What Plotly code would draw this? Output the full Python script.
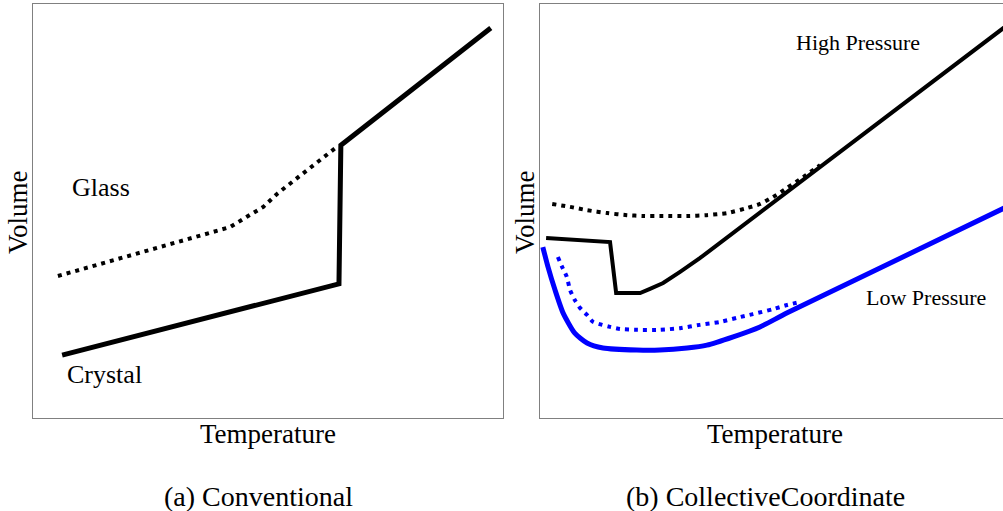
import plotly.graph_objects as go

# ---------------- data (arbitrary units: Temperature 0-100, Volume 0-100) ----------------
# Panel (a) Conventional
crystal_T = [6.2, 65.1, 65.5, 97.4]
crystal_V = [15.2, 32.4, 65.9, 94.2]
glass_T = [5.3, 41.9, 45.5, 49.0, 52.1, 54.9, 57.7, 60.9, 64.9]
glass_V = [34.3, 46.1, 48.6, 51.0, 54.3, 56.8, 59.4, 62.3, 65.7]

# Panel (b) CollectiveCoordinate
hp_solid_T = [1.3, 14.9, 16.2, 21.3, 23.4, 26.2, 29.8, 34.0, 100.0]
hp_solid_V = [43.5, 42.5, 30.2, 30.2, 31.2, 32.6, 35.3, 38.6, 95.4]
hp_dot_T = [2.6, 6.4, 10.0, 14.3, 18.5, 21.9, 26.2, 31.3, 35.5, 39.8, 44.0, 46.8, 49.6, 52.6, 56.0, 59.6]
hp_dot_V = [51.7, 51.0, 50.2, 49.5, 49.0, 48.8, 48.8, 48.8, 49.0, 49.5, 50.7, 51.7, 53.4, 55.6, 58.2, 61.1]
lp_solid_T = [0.6, 1.7, 3.2, 4.9, 7.4, 10.0, 13.4, 20.6, 25.5, 31.3, 35.5, 41.1, 46.8, 52.6, 100.0]
lp_solid_V = [41.3, 36.5, 30.9, 25.4, 20.5, 18.1, 16.9, 16.4, 16.4, 16.9, 17.6, 19.6, 22.0, 25.4, 51.4]
lp_dot_T = [3.8, 4.7, 5.7, 6.4, 7.4, 8.5, 10.0, 11.3, 13.2, 14.9, 17.0, 20.6, 25.5, 29.8, 34.0, 38.3, 41.9, 45.3, 49.6, 52.6, 55.3]
lp_dot_V = [38.9, 36.5, 34.1, 30.9, 28.5, 26.6, 24.9, 23.2, 22.5, 22.0, 21.5, 21.3, 21.3, 21.7, 22.5, 23.2, 24.2, 25.1, 26.3, 27.3, 28.0]

labels_a = [("Glass", 14.4, 55.6), ("Crystal", 15.3, 10.6)]
labels_b = [("High Pressure", 67.7, 90.6), ("Low Pressure", 82.1, 29.0)]

W, H = 1003, 511
SERIF = "Liberation Serif"
BLUE = "#0000ff"
DOT = "4px,5px"

fig = go.Figure()
fig.add_trace(go.Scatter(x=crystal_T, y=crystal_V, mode="lines",
                         line=dict(color="black", width=5), xaxis="x", yaxis="y"))
fig.add_trace(go.Scatter(x=glass_T, y=glass_V, mode="lines",
                         line=dict(color="black", width=4, dash=DOT), xaxis="x", yaxis="y"))
fig.add_trace(go.Scatter(x=hp_dot_T, y=hp_dot_V, mode="lines",
                         line=dict(color="black", width=4, dash=DOT, shape="spline", smoothing=0.6),
                         xaxis="x2", yaxis="y2"))
fig.add_trace(go.Scatter(x=hp_solid_T, y=hp_solid_V, mode="lines",
                         line=dict(color="black", width=4), xaxis="x2", yaxis="y2"))
fig.add_trace(go.Scatter(x=lp_dot_T, y=lp_dot_V, mode="lines",
                         line=dict(color=BLUE, width=4, dash=DOT, shape="spline", smoothing=0.6),
                         xaxis="x2", yaxis="y2"))
fig.add_trace(go.Scatter(x=lp_solid_T, y=lp_solid_V, mode="lines",
                         line=dict(color=BLUE, width=5, shape="spline", smoothing=0.6),
                         xaxis="x2", yaxis="y2"))

ax_common = dict(showgrid=False, zeroline=False, showticklabels=False, ticks="",
                 showline=True, linecolor="#808080", linewidth=1)
ydom = [(H - 418) / H, (H - 4) / H]
fig.update_layout(
    width=W, height=H, margin=dict(l=0, r=0, t=0, b=0),
    paper_bgcolor="white", plot_bgcolor="white", showlegend=False,
    xaxis=dict(domain=[33 / W, 503 / W], range=[0, 100], mirror=True, **ax_common),
    yaxis=dict(domain=ydom, range=[0, 100], mirror=True, **ax_common),
    xaxis2=dict(domain=[540 / W, 1.0], range=[0, 98.5], mirror=True, anchor="y2", **ax_common),
    yaxis2=dict(domain=ydom, range=[0, 100], mirror=False, anchor="x2", **ax_common),
)

ann = []
for t, x, y in labels_a:
    ann.append(dict(text=t, x=x, y=y, xref="x", yref="y", showarrow=False,
                    font=dict(family=SERIF, size=26, color="black")))
for t, x, y in labels_b:
    ann.append(dict(text=t, x=x, y=y, xref="x2", yref="y2", showarrow=False,
                    font=dict(family=SERIF, size=22, color="black")))

def paper(text, px, py, size, angle=0):
    ann.append(dict(text=text, x=px / W, y=1 - py / H, xref="paper", yref="paper",
                    showarrow=False, textangle=angle, xanchor="center", yanchor="middle",
                    font=dict(family=SERIF, size=size, color="black")))

paper("Temperature", 268, 434, 27)
paper("Temperature", 775, 434, 27)
paper("Volume", 18, 212, 27, -90)
paper("Volume", 525, 212, 27, -90)
paper("(a) Conventional", 258, 496, 28)
paper("(b) CollectiveCoordinate", 765, 496, 28)
fig.update_layout(annotations=ann)

fig.write_html("out.html", config={"displayModeBar": False},
               post_script="document.body.style.margin='0';document.body.style.overflow='hidden';")
